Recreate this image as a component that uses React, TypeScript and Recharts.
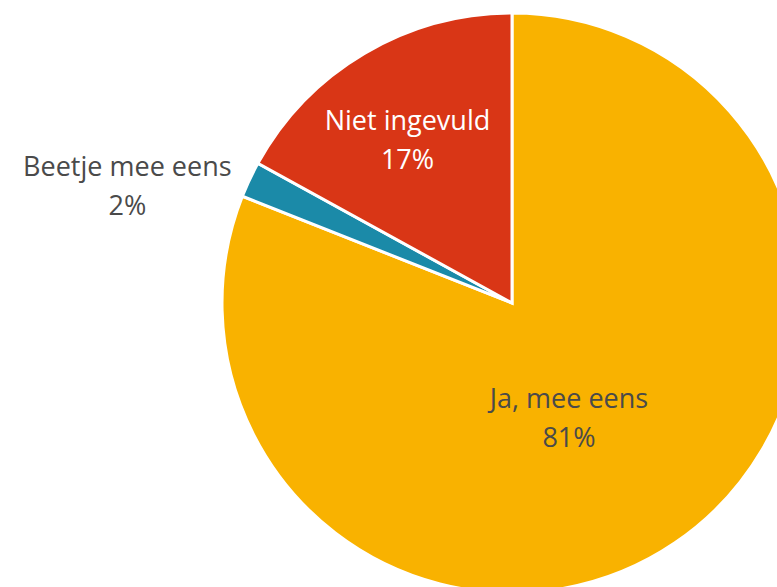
import React from 'react';
import { PieChart, Pie, Cell } from 'recharts';

const categories = ['Ja, mee eens', 'Beetje mee eens', 'Niet ingevuld'];
const values = [81, 2, 17];
const colors = ['#F9B200', '#1B8AA8', '#D93616'];
const labelColors = ['#4A4A4A', '#4A4A4A', '#FFFFFF'];
// label placement relative to the slice: radius factor and angle shift (deg)
const labelRadius = [0.43, 1.39, 0.68];
const labelShift = [-7, 7.8, 1.4];

const data = categories.map((name, i) => ({ name, value: values[i] }));

const RADIAN = Math.PI / 180;

const renderLabel = (props: any) => {
  const { cx, cy, midAngle, outerRadius, index, percent } = props;
  const r = outerRadius * labelRadius[index];
  const a = (midAngle + labelShift[index]) * RADIAN;
  const x = cx + r * Math.cos(a);
  const y = cy - r * Math.sin(a);
  return (
    <text
      x={x}
      y={y}
      fill={labelColors[index]}
      textAnchor="middle"
      fontFamily="'Open Sans', sans-serif"
      fontSize={27}
    >
      <tspan x={x} dy={-6}>{categories[index]}</tspan>
      <tspan x={x} dy={39}>{`${Math.round(percent * 100)}%`}</tspan>
    </text>
  );
};

export default function App() {
  return (
    <div style={{ position: 'absolute', left: 0, top: 0, width: 777, height: 587, overflow: 'hidden', background: '#fff' }}>
      <PieChart width={777} height={587} margin={{ top: 0, right: 0, bottom: 0, left: 0 }}>
        <Pie
          data={data}
          dataKey="value"
          nameKey="name"
          cx={512}
          cy={303}
          outerRadius={290}
          startAngle={90}
          endAngle={-270}
          stroke="#FFFFFF"
          strokeWidth={3}
          label={renderLabel}
          labelLine={false}
          isAnimationActive={false}
        >
          {data.map((d, i) => (
            <Cell key={d.name} fill={colors[i]} />
          ))}
        </Pie>
      </PieChart>
    </div>
  );
}
